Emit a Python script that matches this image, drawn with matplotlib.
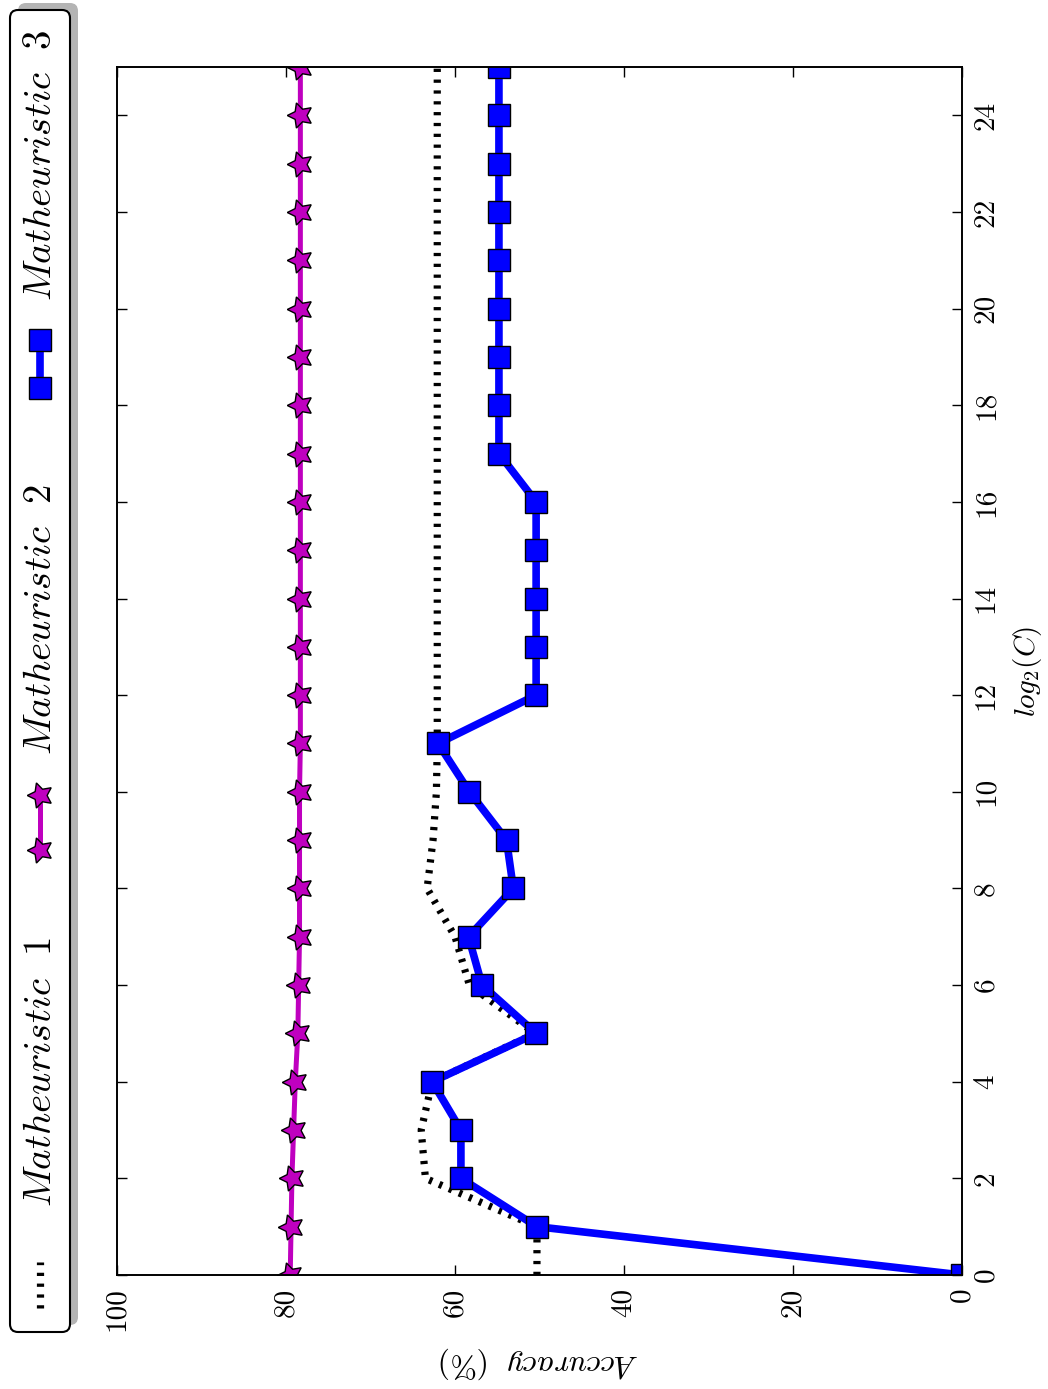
import matplotlib
matplotlib.use('Agg')
import matplotlib.pyplot as plt
from matplotlib.lines import Line2D
from matplotlib.patches import FancyBboxPatch

plt.rcParams['font.family'] = ['cmr10', 'DejaVu Sans']
plt.rcParams['mathtext.fontset'] = 'cm'
plt.rcParams['axes.unicode_minus'] = False

# data (log2(C) on the vertical axis, accuracy on the horizontal one)
log2_c = list(range(26))
m1 = [50.3, 50.3, 63.5, 64.0, 62.7, 50.5, 58.3, 60.0, 63.3, 62.6, 62.2, 62.1, 62.1,
      62.1, 62.1, 62.1, 62.1, 62.1, 62.1, 62.1, 62.1, 62.1, 62.1, 62.1, 62.1, 62.1]
m2 = [79.5, 79.4, 79.3, 79.1, 78.9, 78.6, 78.5, 78.4, 78.4, 78.4, 78.4, 78.3, 78.3,
      78.3, 78.3, 78.3, 78.3, 78.3, 78.3, 78.3, 78.3, 78.3, 78.3, 78.3, 78.3, 78.3]
m3 = [0.0, 50.3, 59.3, 59.3, 62.7, 50.4, 56.8, 58.4, 53.1, 53.9, 58.3, 62.0, 50.4,
      50.4, 50.4, 50.4, 50.4, 54.8, 54.8, 54.8, 54.8, 54.8, 54.8, 54.8, 54.8, 54.8]
labels = [r'$Matheuristic\ \ 1$', r'$Matheuristic\ \ 2$', r'$Matheuristic\ \ 3$']
acc_ticks = [0, 20, 40, 60, 80, 100]
acc_labels = ['0', '20', '40', '60', '80', '100']
c_ticks = [0, 2, 4, 6, 8, 10, 12, 14, 16, 18, 20, 22, 24]
c_labels = [str(t) for t in c_ticks]

W, H = 1048, 1389
fig = plt.figure(figsize=(W / 100, H / 100), dpi=100)
ax = fig.add_axes([117 / W, (H - 1275) / H, 845 / W, (1275 - 67) / H])

star = (5, 1, 90)  # star turned on its side like the rest of the page
dot_style = dict(color='k', lw=5.2, dashes=(0.45, 1.05))
star_style = dict(color='m', lw=3.6, marker=star, ms=19, mec='k', mew=1.0)
sq_style = dict(color='b', lw=5.5, marker='s', ms=15.5, mec='k', mew=1.0)

ax.plot(m1, log2_c, **dot_style)
ax.plot(m2, log2_c, **star_style)
ax.plot(m3, log2_c, **sq_style)

ax.set_xlim(100, 0)
ax.set_ylim(0, 25)
ax.set_xticks(acc_ticks)
ax.set_xticklabels(acc_labels, rotation=90, va='top', ha='center', fontsize=21)
ax.set_yticks(c_ticks)
ax.set_yticklabels(c_labels, rotation=90, va='center', ha='left', fontsize=21)
ax.yaxis.tick_right()
ax.tick_params(direction='in', length=7, width=1.0, top=True, bottom=True,
               left=True, right=True, labelleft=False, labelright=True)
ax.tick_params(axis='x', pad=9)
ax.tick_params(axis='y', pad=8)
for s in ax.spines.values():
    s.set_linewidth(1.4)

ax.yaxis.set_label_position('right')
ax.set_ylabel(r'$log_2(C)$', fontsize=21, rotation=90, labelpad=8)
ax.set_xlabel(r'$Accuracy\ \ (\%)$', fontsize=23, rotation=180, labelpad=10)


# hand made legend, rotated like the page (pixel positions)
def inch(x, y):
    return x / 100, (H - y) / 100


tr = fig.dpi_scale_trans
x0, y0 = inch(10, 1332)
shadow = FancyBboxPatch((x0 + 0.08, y0 + 0.07), 0.60, 13.22,
                        boxstyle='round,pad=0,rounding_size=0.08',
                        transform=tr, fc='#b4b4b4', ec='none')
box = FancyBboxPatch((x0, y0), 0.60, 13.22,
                     boxstyle='round,pad=0,rounding_size=0.08',
                     transform=tr, fc='white', ec='k', lw=1.5)
fig.patches.extend([shadow, box])

handles = [dot_style, star_style, sq_style]
spans = [(1308, 1262), (850, 795), (388, 340)]
text_start = [1207, 755, 301]
for style, (ya, yb), ys, lab in zip(handles, spans, text_start, labels):
    xa, ya_ = inch(40, ya)
    _, yb_ = inch(40, yb)
    line = Line2D([xa, xa], [ya_, yb_], transform=tr, **style)
    fig.lines.append(line)
    tx, ty = inch(41, ys)
    fig.text(tx, ty, lab, transform=tr, rotation=90, ha='center',
             va='bottom', fontsize=28)

fig.savefig('out.png', dpi=100)
